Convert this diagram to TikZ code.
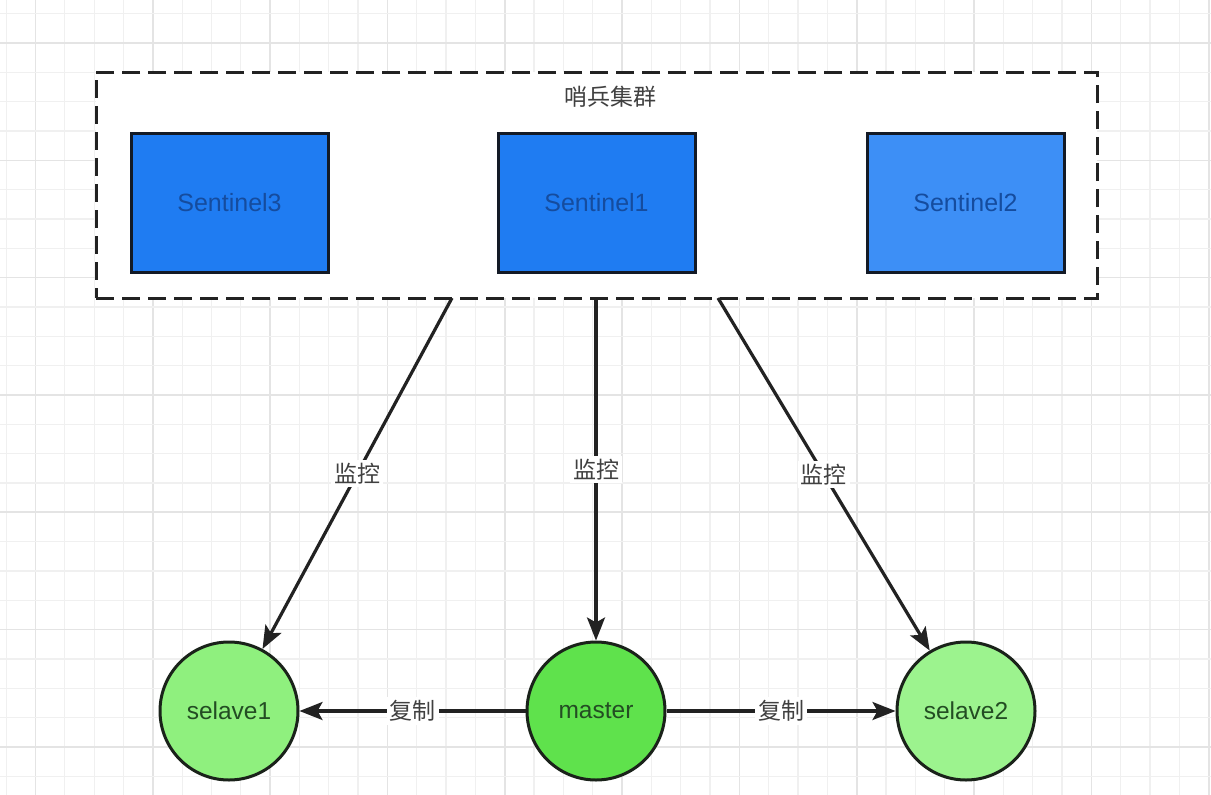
\documentclass[tikz,border=0pt]{standalone}
\usepackage{fontspec}
\setmainfont{Liberation Sans}
\newfontfamily\cjk{Noto Sans CJK SC}
\usetikzlibrary{arrows.meta}

\definecolor{gridminor}{HTML}{F0F0F0}
\definecolor{gridmajor}{HTML}{E4E4E4}
\definecolor{sentA}{HTML}{1F7CF2}
\definecolor{sentB}{HTML}{3D8FF6}
\definecolor{senttext}{HTML}{154C9E}
\definecolor{sentborder}{HTML}{131A26}
\definecolor{slaveA}{HTML}{8FF07E}
\definecolor{slaveB}{HTML}{9CF38E}
\definecolor{masterc}{HTML}{5FE24C}
\definecolor{circtext}{HTML}{234D23}
\definecolor{circborder}{HTML}{1A221A}
\definecolor{linec}{HTML}{222222}
\definecolor{labelc}{HTML}{404040}

\begin{document}
\begin{tikzpicture}[x=1pt,y=-1pt,
  minorline/.style={draw=gridminor,line width=1.3pt},
  majorline/.style={draw=gridmajor,line width=1.6pt},
  cluster/.style={draw=linec,fill=white,line width=3pt,dash pattern=on 18pt off 8pt,
    minimum width=1001pt,minimum height=226pt,inner sep=0pt},
  titletext/.style={font=\cjk\fontsize{23}{28}\selectfont,text=labelc,inner sep=0pt},
  sentbox/.style={draw=sentborder,line width=3pt,minimum width=197pt,minimum height=139pt,
    inner sep=0pt,text=senttext,font=\fontsize{25}{30}\selectfont},
  circ/.style={circle,draw=circborder,line width=3pt,minimum size=138pt,inner sep=0pt,
    text=circtext,font=\fontsize{24.5}{30}\selectfont},
  conn/.style={draw=linec,line width=3.2pt,-{Stealth[length=23pt,width=18pt,inset=5pt]}},
  lbl/.style={fill=white,inner sep=3pt,text=labelc,font=\cjk\fontsize{23}{28}\selectfont}
]
\useasboundingbox (0,0) rectangle (1211,795);
\fill[white] (0,0) rectangle (1211,795);
% grid
\foreach \i in {-1,...,40} {
  \pgfmathtruncatemacro{\m}{mod(\i+4,4)}
  \ifnum\m=0
    \draw[majorline] ({35.5+29.33*\i},0) -- ({35.5+29.33*\i},795);
  \else
    \draw[minorline] ({35.5+29.33*\i},0) -- ({35.5+29.33*\i},795);
  \fi
}
\foreach \j in {-1,...,26} {
  \pgfmathtruncatemacro{\m}{mod(\j+4,4)}
  \ifnum\m=0
    \draw[majorline] (0,{43+29.33*\j}) -- (1211,{43+29.33*\j});
  \else
    \draw[minorline] (0,{43+29.33*\j}) -- (1211,{43+29.33*\j});
  \fi
}

\node[cluster] (cluster) at (596.5,185) {};
\node[titletext] (title) at (610,97) {哨兵集群};

\node[sentbox,fill=sentA] (s3) at (229.5,202.5) {Sentinel3};
\node[sentbox,fill=sentA] (s1) at (596.5,202.5) {Sentinel1};
\node[sentbox,fill=sentB] (s2) at (965.5,202.5) {Sentinel2};

\node[circ,fill=slaveA] (slave1) at (229,711) {selave1};
\node[circ,fill=masterc] (master) at (596,711) {master};
\node[circ,fill=slaveB] (slave2) at (966,711) {selave2};

\coordinate (c1) at (452,298);
\coordinate (c2) at (596,298);
\coordinate (c3) at (718,298);

\draw[conn] (c1) -- node[lbl]{监控} (slave1);
\draw[conn] (c2) -- node[lbl]{监控} (master);
\draw[conn] (c3) -- node[lbl]{监控} (slave2);
\draw[conn] (master) -- node[lbl]{复制} (slave1);
\draw[conn] (master) -- node[lbl]{复制} (slave2);
\end{tikzpicture}
\end{document}
